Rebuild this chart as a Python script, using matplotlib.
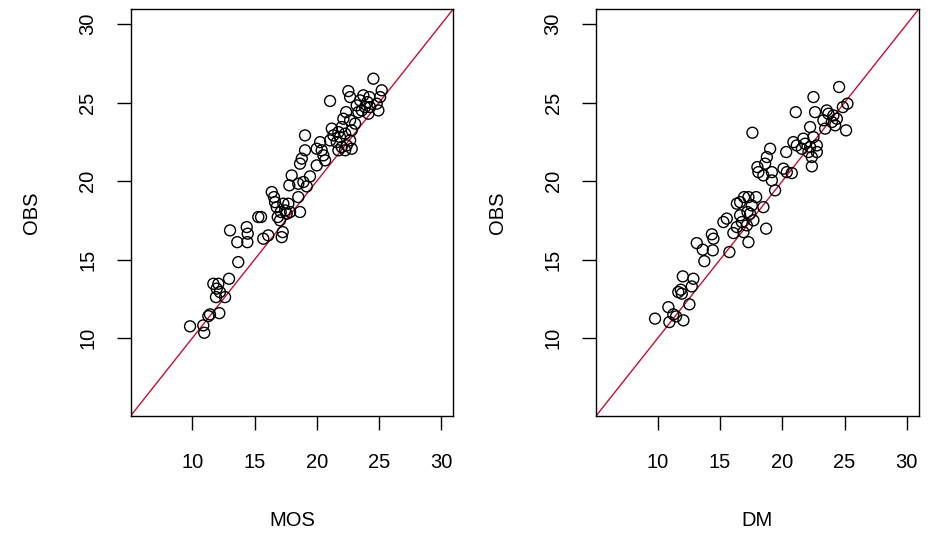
import matplotlib
matplotlib.use("Agg")
import matplotlib.pyplot as plt

plt.rcParams['font.family'] = ['Liberation Sans', 'DejaVu Sans']

# MOS vs OBS (left panel)
mos_x = [9.82, 10.88, 10.96, 11.29, 11.42, 12.17, 11.69, 12.09, 11.96, 11.90,
         12.63, 12.22, 12.95, 13.69, 13.03, 13.61, 14.37, 14.45, 14.42, 15.30,
         15.52, 15.70, 16.10, 16.38, 16.56, 16.64, 16.86, 16.78, 17.18, 17.26,
         17.31, 17.45, 17.71, 17.58, 17.04, 17.10, 17.85, 17.98, 17.79, 18.51,
         18.65, 18.92, 19.19, 19.45, 18.51, 24.54, 25.21, 21.06, 22.53, 22.67,
         23.73, 24.22, 23.47, 23.20, 24.06, 25.08, 24.81, 24.27, 24.94, 23.87,
         23.61, 23.33, 22.35, 22.13, 22.67, 23.07, 24.14, 22.80, 22.00, 22.27,
         21.20, 19.05, 21.33, 21.06, 21.73, 21.86, 21.60, 20.26, 19.99, 20.39,
         19.05, 18.79, 18.65, 20.52, 20.66, 19.99, 22.00, 22.40, 22.67, 22.27,
         22.80, 21.73]
mos_obs = [10.75, 10.81, 10.34, 11.40, 11.51, 11.59, 13.46, 13.46, 13.15, 12.61,
           12.61, 12.93, 13.78, 14.84, 16.86, 16.11, 17.07, 16.65, 16.11, 17.71,
           17.71, 16.33, 16.54, 19.30, 18.98, 18.66, 17.71, 18.34, 16.43, 16.75,
           18.56, 18.13, 18.56, 17.92, 17.50, 18.03, 18.03, 20.36, 19.73, 19.83,
           18.03, 19.94, 19.66, 20.30, 18.98, 26.52, 25.78, 25.10, 25.73, 25.35,
           25.46, 25.35, 25.14, 24.82, 25.03, 25.35, 24.93, 24.71, 24.50, 24.71,
           24.50, 24.39, 24.39, 23.97, 23.87, 23.66, 24.29, 23.23, 23.44, 23.02,
           23.34, 22.91, 22.91, 22.59, 23.12, 22.80, 22.48, 22.48, 22.06, 21.96,
           21.96, 21.43, 21.11, 21.64, 21.32, 21.00, 22.17, 22.27, 22.59, 21.96,
           22.06, 21.96]

# DM vs OBS (right panel)
dm_x = [9.78, 10.85, 10.93, 11.25, 11.47, 12.06, 12.54, 11.65, 11.85, 11.93,
        12.01, 12.73, 12.86, 13.13, 13.61, 13.74, 14.34, 14.47, 14.42, 15.27,
        15.54, 15.75, 16.07, 16.35, 16.35, 16.61, 16.93, 17.28, 17.90, 16.61,
        16.75, 16.88, 17.28, 17.15, 17.41, 17.55, 17.68, 17.20, 18.48, 18.70,
        18.08, 18.48, 19.16, 19.42, 20.36, 20.76, 24.56, 22.50, 21.08, 22.63,
        23.57, 23.70, 24.10, 25.23, 24.86, 24.38, 23.98, 23.30, 24.24, 25.12,
        22.23, 23.44, 22.50, 21.69, 20.89, 21.16, 21.83, 22.23, 22.77, 21.57,
        22.10, 22.77, 20.31, 22.37, 22.37, 19.02, 18.76, 18.62, 19.16, 20.09,
        17.60, 18.00]
dm_obs = [11.24, 11.97, 11.02, 11.51, 11.38, 11.13, 12.15, 12.93, 13.08, 12.83,
          13.93, 13.29, 13.78, 16.05, 15.63, 14.90, 16.61, 16.33, 15.59, 17.39,
          17.61, 15.48, 16.69, 17.07, 18.56, 18.66, 18.98, 18.98, 18.98, 17.82,
          17.39, 16.75, 16.11, 17.18, 17.92, 18.45, 17.50, 18.03, 18.34, 16.97,
          20.57, 20.36, 20.04, 19.41, 20.57, 20.51, 25.99, 25.35, 24.39, 24.39,
          24.50, 24.29, 24.18, 24.93, 24.71, 23.97, 23.76, 23.87, 23.55, 23.23,
          23.44, 23.34, 22.80, 22.70, 22.48, 22.27, 22.38, 22.17, 22.27, 22.06,
          21.85, 21.85, 21.85, 21.53, 20.94, 22.06, 21.53, 21.11, 20.57, 20.79,
          23.08, 20.89]

ticks = [10, 15, 20, 25, 30]
lims = (5.04, 30.96)

fig = plt.figure(figsize=(9.33, 5.34), dpi=100)
ax1 = fig.add_axes([0.1399, 0.2210, 0.3460, 0.7622])
ax2 = fig.add_axes([0.6388, 0.2210, 0.3460, 0.7622])

for ax, xs, ys, xl in [(ax1, mos_x, mos_obs, "MOS"), (ax2, dm_x, dm_obs, "DM")]:
    ax.scatter(xs, ys, s=62, facecolors='none', edgecolors='black', linewidths=1.0, zorder=3)
    ax.plot(lims, lims, color='#c8102e', lw=1.0, zorder=2)
    ax.set_xlim(lims)
    ax.set_ylim(lims)
    ax.set_xticks(ticks)
    ax.set_yticks(ticks)
    ax.tick_params(axis='both', direction='out', length=10, width=1.0, labelsize=14.5, colors='black')
    ax.tick_params(axis='x', pad=17)
    ax.tick_params(axis='y', pad=14, labelrotation=90)
    for lab in ax.get_yticklabels():
        lab.set_va('center')
    for sp in ax.spines.values():
        sp.set_linewidth(1.0)
        sp.set_color('black')
    ax.set_xlabel(xl, fontsize=14.5)
    ax.set_ylabel("OBS", fontsize=14.5)
    ax.xaxis.set_label_coords(0.5, -0.258)
    ax.xaxis.label.set_va('center')
    ax.yaxis.set_label_coords(-0.306, 0.5)
    ax.yaxis.label.set_va('center')

fig.savefig("out.png", dpi=100)
